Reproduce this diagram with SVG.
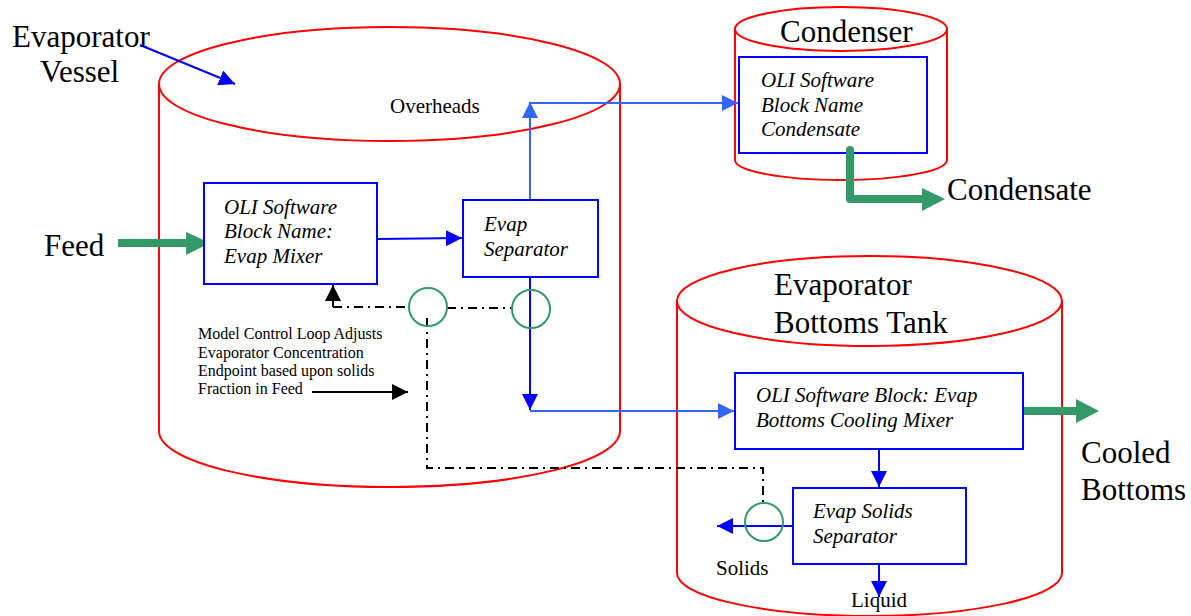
<svg xmlns="http://www.w3.org/2000/svg" width="1191" height="616" viewBox="0 0 1191 616">
<style>
.vessel{fill:none;stroke:#FF0000;stroke-width:2}
.box{fill:#FFFFFF;stroke:#0000FF;stroke-width:2}
.big{font-family:"Liberation Serif",serif;font-size:31px;fill:#000}
.it{font-family:"Liberation Serif",serif;font-size:21px;font-style:italic;fill:#000}
.lbl{font-family:"Liberation Serif",serif;font-size:21px;fill:#000}
.note{font-family:"Liberation Serif",serif;font-size:16px;fill:#000}
.b{fill:none;stroke:#0000FF;stroke-width:2}
.lb{fill:none;stroke:#3366FF;stroke-width:2}
.dd{fill:none;stroke:#000;stroke-width:2;stroke-dasharray:9,5,2,5}
.blk{fill:none;stroke:#000;stroke-width:2}
.ring{fill:none;stroke:#339966;stroke-width:2}
.green{fill:none;stroke:#339966;stroke-width:8;stroke-linejoin:round;stroke-linecap:round}
.gh{fill:#339966}
</style>
<defs>
<marker id="aB" markerUnits="userSpaceOnUse" markerWidth="16" markerHeight="16" refX="16" refY="8" orient="auto"><path d="M0,0 L16,8 L0,16 z" fill="#0000FF"/></marker>
<marker id="aL" markerUnits="userSpaceOnUse" markerWidth="16" markerHeight="16" refX="16" refY="8" orient="auto"><path d="M0,0 L16,8 L0,16 z" fill="#3366FF"/></marker>
<marker id="aK" markerUnits="userSpaceOnUse" markerWidth="16" markerHeight="16" refX="16" refY="8" orient="auto"><path d="M0,0 L16,8 L0,16 z" fill="#000000"/></marker>
</defs>

<g id="evaporator-vessel">
<ellipse class="vessel" cx="389.5" cy="84" rx="230.5" ry="57"/>
<path class="vessel" d="M159,84 L159,431 A230.5,56 0 0 0 620,431 L620,84"/>
</g>
<g id="condenser">
<ellipse class="vessel" cx="841" cy="29" rx="106" ry="22"/>
<path class="vessel" d="M735,29 L735,160 A106,20 0 0 0 947,160 L947,29"/>
<text class="big" x="780" y="42">Condenser</text>
</g>
<g id="bottoms-tank">
<ellipse class="vessel" cx="869.5" cy="301" rx="192.5" ry="45"/>
<path class="vessel" d="M677,301 L677,573 A192.5,43 0 0 0 1062,573 L1062,301"/>
<text class="big" x="774" y="295">Evaporator</text>
<text class="big" x="774" y="333">Bottoms Tank</text>
</g>

<g id="labels">
<text class="big" x="12" y="47">Evaporator</text>
<text class="big" x="40" y="82">Vessel</text>
<text class="big" x="44" y="256">Feed</text>
<text class="big" x="947" y="200">Condensate</text>
<text class="big" x="1081" y="463">Cooled</text>
<text class="big" x="1081" y="500">Bottoms</text>
<text class="lbl" x="390" y="113">Overheads</text>
<text class="lbl" x="716" y="575">Solids</text>
<text class="lbl" x="851" y="607">Liquid</text>
<text class="note" x="198" y="339">Model Control Loop Adjusts</text>
<text class="note" x="198" y="357.5">Evaporator Concentration</text>
<text class="note" x="198" y="376">Endpoint based upon solids</text>
<text class="note" x="198" y="394">Fraction in Feed</text>
</g>

<g id="connectors">
<line class="b" x1="140" y1="45" x2="235" y2="84" marker-end="url(#aB)"/>
<line class="b" x1="377" y1="239" x2="462" y2="238" marker-end="url(#aB)"/>
<line class="lb" x1="530" y1="200" x2="530" y2="102" marker-end="url(#aL)"/>
<line class="lb" x1="530" y1="103" x2="738" y2="103" marker-end="url(#aL)"/>
<line class="b" x1="530" y1="277" x2="530" y2="410" marker-end="url(#aB)"/>
<line class="lb" x1="530" y1="411" x2="734" y2="411" marker-end="url(#aL)"/>
<line class="b" x1="879" y1="449" x2="879" y2="487" marker-end="url(#aB)"/>
<line class="b" x1="879" y1="564" x2="879" y2="597" marker-end="url(#aB)"/>
<line class="b" x1="793" y1="526" x2="717" y2="526" marker-end="url(#aB)"/>
<line class="blk" x1="333" y1="307" x2="333" y2="285" marker-end="url(#aK)"/>
<line class="dd" x1="333" y1="307" x2="409" y2="307"/>
<line class="dd" x1="447" y1="308" x2="512" y2="308"/>
<polyline class="dd" points="427,318 427,468 763,468 763,503"/>
<line class="blk" x1="312" y1="392" x2="408" y2="392" marker-end="url(#aK)"/>
<polyline class="green" points="850,150 850,199 922,199"/>
<polygon class="gh" points="922,188 945,199 922,211"/>
<line class="green" x1="118" y1="243" x2="187" y2="243" style="stroke-linecap:butt"/>
<polygon class="gh" points="186,232 210,243 186,255"/>
<line class="green" x1="1023" y1="411" x2="1077" y2="411" style="stroke-linecap:butt"/>
<polygon class="gh" points="1076,399 1099,411 1076,423"/>
</g>

<g id="valves">
<circle class="ring" cx="428" cy="307" r="19"/>
<circle class="ring" cx="531" cy="309" r="19"/>
<circle class="ring" cx="764" cy="522" r="19"/>
</g>

<g id="evap-mixer">
<rect class="box" x="204" y="183" width="173" height="101"/>
<text class="it" x="224" y="214">OLI Software</text>
<text class="it" x="224" y="238">Block Name:</text>
<text class="it" x="224" y="263">Evap Mixer</text>
</g>
<g id="evap-separator">
<rect class="box" x="463" y="200" width="135" height="77"/>
<text class="it" x="484" y="231">Evap</text>
<text class="it" x="484" y="256">Separator</text>
</g>
<g id="condenser-block">
<rect class="box" x="739" y="57" width="188" height="96"/>
<text class="it" x="761" y="87">OLI Software</text>
<text class="it" x="761" y="112">Block Name</text>
<text class="it" x="761" y="136">Condensate</text>
</g>
<g id="cooling-mixer">
<rect class="box" x="735" y="373" width="288" height="76"/>
<text class="it" x="756" y="402">OLI Software Block: Evap</text>
<text class="it" x="756" y="427">Bottoms Cooling Mixer</text>
</g>
<g id="solids-separator">
<rect class="box" x="793" y="488" width="173" height="76"/>
<text class="it" x="813" y="518">Evap Solids</text>
<text class="it" x="813" y="543">Separator</text>
</g>
<line class="green" x1="850" y1="150" x2="850" y2="160"/>
</svg>
